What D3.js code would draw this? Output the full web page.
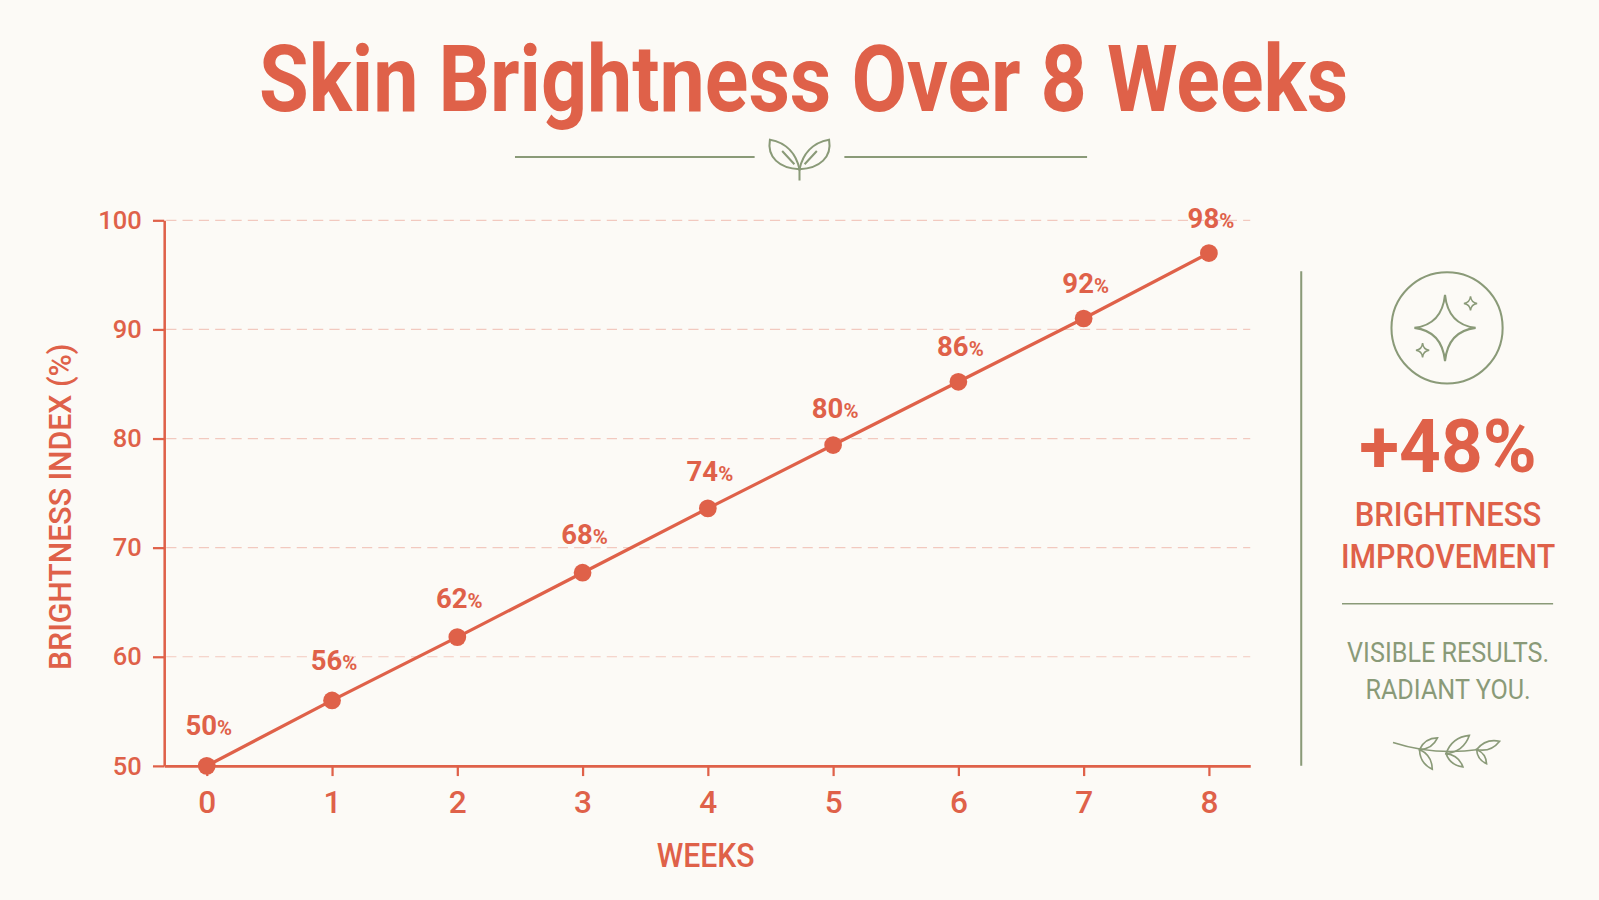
<!DOCTYPE html>
<html lang="en">
  <head>
    <meta charset="UTF-8" />
    <title>Skin Brightness Over 8 Weeks</title>
    <style>
      body {
        margin: 0;
        background: #fcfaf6;
        overflow: hidden;
      }
      svg {
        display: block;
        font-family: Roboto, "Noto Sans", sans-serif;
      }
    </style>
  </head>
  <body>
    <div class="container"></div>

    <script src="https://d3js.org/d3.v7.min.js"></script>
    <script>
      // data
      const weeks = [0, 1, 2, 3, 4, 5, 6, 7, 8];
      // where the points sit on the chart
      const brightness = [50, 56, 61.8, 67.7, 73.6, 79.4, 85.2, 91, 97];
      // what the labels say
      const pointLabels = ["50", "56", "62", "68", "74", "80", "86", "92", "98"];
      const yTicks = [50, 60, 70, 80, 90, 100];

      const coral = "#df6149",
        green = "#8a9a78",
        grid = "#f2c9bf";

      // 畫布：以 1568 寬的座標系統繪製，再放大到視窗
      const VW = 1568,
        VH = 882.5;
      const svg = d3
        .select(".container")
        .append("svg")
        .attr("width", 1599)
        .attr("height", 900)
        .attr("viewBox", `0 0 ${VW} ${VH}`);

      svg.append("rect").attr("width", VW).attr("height", VH).attr("fill", "#fcfaf6");

      // 置中文字的小工具（字型較窄，用 textLength 壓縮）
      function label(parent, x, y, txt, size, weight, fill, len) {
        const t = parent
          .append("text")
          .attr("x", x)
          .attr("y", y)
          .attr("text-anchor", "middle")
          .attr("font-size", size)
          .attr("font-weight", weight)
          .attr("fill", fill)
          .text(txt);
        if (len) t.attr("textLength", len).attr("lengthAdjust", "spacingAndGlyphs");
        return t;
      }

      // 標題
      label(svg, 788, 109, "Skin Brightness Over 8 Weeks", 90, 700, coral, 1068);

      // 標題下的裝飾線 + 葉子
      const deco = svg.append("g").attr("stroke", green).attr("fill", "none").attr("stroke-width", 2);
      deco.append("line").attr("x1", 505).attr("x2", 740).attr("y1", 154).attr("y2", 154);
      deco.append("line").attr("x1", 828).attr("x2", 1066).attr("y1", 154).attr("y2", 154);
      const sprout = deco.append("g").attr("transform", "translate(784,168)");
      sprout.append("path").attr("d", "M0,9 L0,-2");
      sprout.append("path").attr("d", "M0,-2 C-3,-16 -12,-28 -29,-31 C-32,-14 -20,-3 0,-2 Z");
      sprout.append("path").attr("d", "M0,-2 C3,-16 12,-28 29,-31 C32,-14 20,-3 0,-2 Z");
      sprout.append("path").attr("d", "M-5,-7 L-17,-20 M5,-7 L17,-20");

      // 繪製XY圖表範圍
      const scX = d3.scaleLinear().domain([-0.34, 8.33]).range([161, 1226]);
      const scY = d3.scaleLinear().domain([50, 100]).range([751, 216]);

      // 格線
      svg
        .append("g")
        .selectAll("line")
        .data(yTicks.filter((d) => d > 50))
        .join("line")
        .attr("x1", 163)
        .attr("x2", 1226)
        .attr("y1", (d) => scY(d))
        .attr("y2", (d) => scY(d))
        .attr("stroke", grid)
        .attr("stroke-width", 1.2)
        .attr("stroke-dasharray", "10,6");

      // 軸
      const yAxis = svg
        .append("g")
        .attr("transform", "translate(161,0)")
        .call(d3.axisLeft(scY).tickValues(yTicks).tickSize(11).tickSizeOuter(0).tickPadding(11));
      const xAxis = svg
        .append("g")
        .attr("transform", "translate(0,751)")
        .call(d3.axisBottom(scX).tickValues(weeks).tickSize(10).tickSizeOuter(0).tickPadding(14));

      [yAxis, xAxis].forEach((ax) => {
        ax.select(".domain").attr("stroke", coral).attr("stroke-width", 2.5);
        ax.selectAll(".tick line").attr("stroke", coral).attr("stroke-width", 2.2);
        ax.selectAll(".tick text")
          .attr("fill", coral)
          .attr("font-size", 25)
          .attr("font-weight", 500)
          .attr("font-family", "Roboto, sans-serif");
      });
      xAxis.selectAll(".tick text").attr("font-size", 31);

      // 軸標題
      label(svg, 0, 0, "BRIGHTNESS INDEX (%)", 31, 500, coral, 320).attr(
        "transform",
        "translate(70,497) rotate(-90)"
      );
      label(svg, 692, 850, "WEEKS", 32, 500, coral, 96);

      // 折線
      const line = d3
        .line()
        .x((d, i) => scX(weeks[i]))
        .y((d) => scY(d));
      svg
        .append("path")
        .datum(brightness)
        .attr("d", line)
        .attr("fill", "none")
        .attr("stroke", coral)
        .attr("stroke-width", 3.2);

      svg
        .append("g")
        .selectAll("circle")
        .data(brightness)
        .join("circle")
        .attr("cx", (d, i) => scX(weeks[i]))
        .attr("cy", (d) => scY(d))
        .attr("r", 8.7)
        .attr("fill", coral);

      // 數值標籤
      const lbl = svg
        .append("g")
        .selectAll("text")
        .data(brightness)
        .join("text")
        .attr("x", (d, i) => scX(weeks[i]) + 2)
        .attr("y", (d, i) => scY(d) - 30.5 + i * 0.8)
        .attr("text-anchor", "middle")
        .attr("fill", coral)
        .attr("font-weight", 700);
      lbl.append("tspan").attr("font-size", 27).text((d, i) => pointLabels[i]);
      lbl.append("tspan").attr("font-size", 20).text("%");

      // 右側面板
      const panel = svg.append("g");
      panel
        .append("line")
        .attr("x1", 1276)
        .attr("x2", 1276)
        .attr("y1", 266)
        .attr("y2", 751)
        .attr("stroke", green)
        .attr("stroke-width", 2);

      const badge = panel
        .append("g")
        .attr("transform", "translate(1419,321.5)")
        .attr("fill", "none")
        .attr("stroke", green)
        .attr("stroke-width", 2);
      badge.append("circle").attr("r", 54.5);
      const star = (w, h) =>
        `M0,${-h} Q${w * 0.1},${-h * 0.1} ${w},0 Q${w * 0.1},${h * 0.1} 0,${h} Q${-w * 0.1},${h * 0.1} ${-w},0 Q${-w * 0.1},${-h * 0.1} 0,${-h} Z`;
      badge.append("path").attr("d", star(30, 32.5)).attr("transform", "translate(-2,0)");
      badge.append("path").attr("d", star(6.5, 7)).attr("transform", "translate(23,-24)").attr("stroke-width", 1.5);
      badge.append("path").attr("d", star(6.5, 7)).attr("transform", "translate(-24,22)").attr("stroke-width", 1.5);

      label(panel, 1420, 463, "+48%", 72, 700, coral, 174);
      label(panel, 1420, 516, "BRIGHTNESS", 32, 500, coral, 183);
      label(panel, 1420, 557, "IMPROVEMENT", 32, 500, coral, 210);
      panel
        .append("line")
        .attr("x1", 1316)
        .attr("x2", 1523)
        .attr("y1", 592)
        .attr("y2", 592)
        .attr("stroke", green)
        .attr("stroke-width", 1.5);
      label(panel, 1420, 649, "VISIBLE RESULTS.", 27.5, 400, green, 198);
      label(panel, 1420, 685, "RADIANT YOU.", 27.5, 400, green, 162);

      // 小枝葉
      const sprig = panel
        .append("g")
        .attr("transform", "translate(1366,728)")
        .attr("fill", "none")
        .attr("stroke", green)
        .attr("stroke-width", 1.6);
      sprig.append("path").attr("d", "M0,0 Q40,13 84,7");
      const leaf = (x, y, a, len) => {
        sprig
          .append("path")
          .attr("transform", `translate(${x},${y}) rotate(${a})`)
          .attr("d", `M0,0 Q${len / 2},-${len / 3.2} ${len},0 Q${len / 2},${len / 3.2} 0,0 Z`);
      };
      leaf(26, 7, -33, 21);
      leaf(26, 7, 57, 23);
      leaf(52, 11, -38, 29);
      leaf(52, 11, 38, 21);
      leaf(82, 7, -20, 24);
      leaf(82, 7, 55, 17);
    </script>
  </body>
</html>
